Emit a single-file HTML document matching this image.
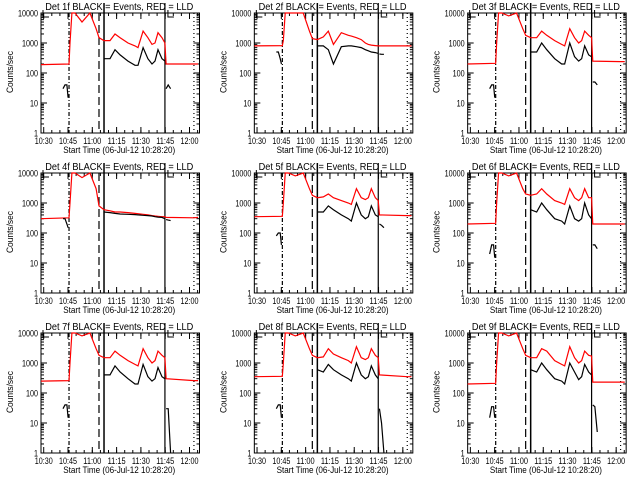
<!DOCTYPE html>
<html><head><meta charset="utf-8"><style>
html,body{margin:0;padding:0;background:#fff;}
svg{display:block;font-family:"Liberation Sans",sans-serif;}
</style></head><body>
<svg id="c" width="640" height="480" viewBox="0 0 640 480" xmlns="http://www.w3.org/2000/svg"></svg>
<script>
const detNames = ["1f","2f","3f","4f","5f","6f","7f","8f","9f"];
const xTickLabels = ["10:30","10:45","11:00","11:15","11:30","11:45","12:00"];
const xTickMinutes = [1.67,16.67,31.67,46.67,61.67,76.67,91.67];
const yTickLabels = ["1","10","100","1000","10000"];
const yTickValues = [1,10,100,1000,10000];
const redTimes = [0,17.3,17.9,19.1,21,25.3,30.2,34,35.8,38.9,42.6,45.7,48.8,53.7,58,59.9,63,66,68.5,70.4,72.2,74.7,76.5,77.2,94.4,97];
const blackTimes = [38.9,42.6,45.7,48.8,53.7,58,59.9,63,66,68.5,70.4,72.2,74.7,76.5];
const blackPreTimes = [13.6,14.8,16,16.7];
const blackPostTimes = [77.2,78.5,80];
const red1 = [190,200,1000,10000,12000,5000,12000,3000,1500,1200,1200,2000,1500,1000,800,700,2500,1500,900,1000,2200,1500,1000,200,200,200];
const red2 = [800,820,1200,10000,12000,12000,12000,2500,1400,1300,1600,2500,900,2200,1800,1700,1500,1300,1000,900,850,820,800,800,800,800];
const red3 = [200,210,1000,10000,12000,8000,12000,3000,1800,1500,1500,2500,1800,1200,900,800,3000,1500,1000,1200,2500,1800,1500,250,240,240];
const red4 = [300,320,1000,10000,12000,7000,12000,3000,800,600,550,500,500,480,450,440,420,400,380,370,360,350,350,330,320,330];
const red5 = [350,360,1000,10000,12000,8000,12000,3000,1800,1500,1600,2000,1500,1200,1000,900,3000,1500,1300,1500,3000,1500,1200,400,380,380];
const red6 = [200,210,1000,10000,12000,8000,12000,3000,2000,1800,2000,3000,2000,1200,1000,900,3000,1500,1200,1500,3000,1500,1500,200,200,200];
const red7 = [250,260,1000,10000,12000,8000,12000,3000,1800,1500,1500,2500,1800,1200,900,800,3000,1500,1000,1200,2500,1800,1500,300,260,260];
const red8 = [350,360,1000,10000,12000,8000,12000,3000,1800,1500,1600,3000,2000,1500,1200,1000,3500,1500,1300,1500,3000,1800,1500,400,350,350];
const red9 = [200,210,1000,10000,12000,8000,12000,3000,1800,1500,1500,3000,2500,1200,900,800,3500,1500,1000,1200,2500,1800,1700,230,230,230];
const black1 = [300,300,600,400,250,180,180,700,300,200,250,600,300,250];
const black2 = [800,800,600,200,750,800,800,750,700,600,550,500,480,450];
const black3 = [500,500,1000,600,300,200,200,1000,350,250,300,800,400,350];
const black4 = [500,480,450,430,420,410,400,390,380,370,350,340,330,300];
const black5 = [500,500,800,600,400,300,250,1000,400,300,350,800,400,350];
const black6 = [600,500,1000,600,300,250,200,800,300,250,300,1000,400,300];
const black7 = [400,400,800,500,300,200,200,900,350,250,300,700,350,300];
const black8 = [600,500,900,600,400,300,250,1000,400,300,350,800,400,300];
const black9 = [600,500,1000,600,300,250,200,1000,500,280,350,900,500,400];
const blackPre1 = [30,40,40,15];
const blackPre2 = [500,500,300,200];
const blackPre3 = [30,40,40,15];
const blackPre4 = [300,300,200,150];
const blackPre5 = [80,100,100,40];
const blackPre6 = [20,40,40,15];
const blackPre7 = [30,40,40,15];
const blackPre8 = [30,40,40,15];
const blackPre9 = [15,35,35,15];
const blackPost1 = [30,40,30];
const blackPost2 = [430,420,420];
const blackPost3 = [50,50,40];
const blackPost4 = [280,270,260];
const blackPost5 = [200,180,150];
const blackPost6 = [40,40,30];
const blackPost7 = [30,30,1];
const blackPost8 = [30,10,1];
const blackPost9 = [40,35,5];
const reds=[red1,red2,red3,red4,red5,red6,red7,red8,red9];
const blacks=[black1,black2,black3,black4,black5,black6,black7,black8,black9];
const pres=[blackPre1,blackPre2,blackPre3,blackPre4,blackPre5,blackPre6,blackPre7,blackPre8,blackPre9];
const posts=[blackPost1,blackPost2,blackPost3,blackPost4,blackPost5,blackPost6,blackPost7,blackPost8,blackPost9];
const markerMinutes = [17.3,35.8,38.9,76.5,94.4];

const NS="http://www.w3.org/2000/svg";
const svg=document.getElementById('c');
function mk(tag,attrs,parent){const e=document.createElementNS(NS,tag);for(const k in attrs)e.setAttribute(k,attrs[k]);parent.appendChild(e);return e;}
const W=158.5,H=120,L=41,T=13,PXMIN=1.62,TMAX=W/PXMIN;
for(let p=0;p<9;p++){
  const ox=(p%3)*213.33, oy=Math.floor(p/3)*160;
  const g=mk('g',{transform:`translate(${ox},${oy})`},svg);
  
  
  const xs=t=>L+Math.min(t,TMAX)*PXMIN;
  const ys=v=>{const c=Math.min(Math.max(v,1),10000);return T+H-(Math.log10(c))*H/4;};
  const box=mk('rect',{x:L,y:T,width:W,height:H,fill:'none',stroke:'#000','stroke-width':1},g);
  
  
  for(let d=0;d<5;d++){
    const y=ys(yTickValues[d]);
    mk('line',{x1:L,x2:L+6,y1:y,y2:y,stroke:'#000'},g);
    mk('line',{x1:L+W,x2:L+W-6,y1:y,y2:y,stroke:'#000'},g);
    const tl=mk('text',{x:L-3,y:y+3.5,'text-anchor':'end','font-size':9,textLength:4*yTickLabels[d].length,lengthAdjust:'spacingAndGlyphs'},g);
    tl.textContent=yTickLabels[d];
    
    
    if(d<4)for(let m=2;m<10;m++){const yy=ys(yTickValues[d]*m);
      mk('line',{x1:L,x2:L+3,y1:yy,y2:yy,stroke:'#000'},g);
      mk('line',{x1:L+W,x2:L+W-3,y1:yy,y2:yy,stroke:'#000'},g);}
  }
  for(let i=0;i<xTickMinutes.length;i++){
    const x=xs(xTickMinutes[i]);
    mk('line',{x1:x,x2:x,y1:T+H,y2:T+H-6,stroke:'#000'},g);
    mk('line',{x1:x,x2:x,y1:T,y2:T+6,stroke:'#000'},g);
    const tl=mk('text',{x:x,y:T+H+11,'text-anchor':'middle','font-size':9,textLength:18,lengthAdjust:'spacingAndGlyphs'},g);
    tl.textContent=xTickLabels[i];
    
    
  }
  for(let t=6.67;t<TMAX;t+=5){const x=xs(t);
    mk('line',{x1:x,x2:x,y1:T+H,y2:T+H-3,stroke:'#000'},g);
    mk('line',{x1:x,x2:x,y1:T,y2:T+3,stroke:'#000'},g);}
  const styles=['4,2,1,2','8,4','','','1,3'];
  markerMinutes.forEach((m,i)=>{const x=xs(m);
    const ln=mk('line',{x1:x,x2:x,y1:(i==2||i==3)?3:T,y2:T+H,stroke:'#000','stroke-width':i==2?1.5:1.2},g);
    if(styles[i])ln.setAttribute('stroke-dasharray',styles[i]);
    
    });
  mk('path',{d:`M${L+2} ${T-3} V${T+4} H${L+8}`,fill:'none',stroke:'#000'},g);
  mk('path',{d:`M${xs(76.5)+3} ${T-3} V${T+4} H${xs(76.5)+9}`,fill:'none',stroke:'#000'},g);
  const line=(ts,vs,color,name)=>{const pts=ts.map((t,i)=>xs(t).toFixed(1)+','+ys(vs[i]).toFixed(1)).join(' ');
    const pl=mk('polyline',{points:pts,fill:'none',stroke:color,'stroke-width':1.2},g);
    
    };
  line(redTimes,reds[p],'#ff0000','lld-red-series');
  line(blackTimes,blacks[p],'#000','events-black-series');
  line(blackPreTimes,pres[p],'#000','events-black-pre');
  line(blackPostTimes,posts[p],'#000','events-black-post');
  const ti=mk('text',{x:L+W/2-1,y:10,'text-anchor':'middle','font-size':10,textLength:148,lengthAdjust:'spacingAndGlyphs'},g);
  ti.textContent='Det '+detNames[p]+' BLACK = Events, RED = LLD';
  
  
  const xl=mk('text',{x:L+W/2-1,y:T+H+20,'text-anchor':'middle','font-size':9.5,textLength:112,lengthAdjust:'spacingAndGlyphs'},g);
  xl.textContent='Start Time (06-Jul-12 10:28:20)';
  
  
  const yl=mk('text',{x:0,y:0,'text-anchor':'middle','font-size':9,textLength:42,lengthAdjust:'spacingAndGlyphs',transform:`translate(13,${T+H/2-1}) rotate(-90)`},g);
  yl.textContent='Counts/sec';
  
  
}
</script>
</body></html>
